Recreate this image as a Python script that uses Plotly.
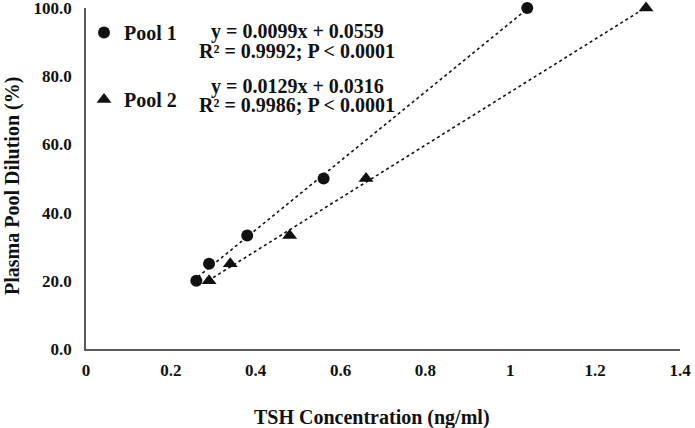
import numpy as np
import plotly.graph_objects as go

pool1_x = [0.26, 0.29, 0.38, 0.56, 1.04]
pool1_y = [20, 25, 33.3, 50, 100]
pool2_x = [0.29, 0.34, 0.48, 0.66, 1.32]
pool2_y = [20, 25, 33.3, 50, 100]

eq_lines = ["y = 0.0099x + 0.0559", "R\u00b2 = 0.9992; P < 0.0001",
            "y = 0.0129x + 0.0316", "R\u00b2 = 0.9986; P < 0.0001"]
x_ticks = [0, 0.2, 0.4, 0.6, 0.8, 1, 1.2, 1.4]
y_ticks = [0, 20, 40, 60, 80, 100]

FONT = "Liberation Serif"
INK = "#111111"

def trend(xs, ys):
    b, a = np.polyfit(ys, xs, 1)
    yy = np.array([min(ys), max(ys)], dtype=float)
    return b * yy + a, yy

fig = go.Figure()
tx1, ty1 = trend(pool1_x, pool1_y)
tx2, ty2 = trend(pool2_x, pool2_y)
fig.add_trace(go.Scatter(x=tx1, y=ty1, mode="lines", showlegend=False,
                         line=dict(color=INK, width=1.6, dash="dot"), hoverinfo="skip"))
fig.add_trace(go.Scatter(x=tx2, y=ty2, mode="lines", showlegend=False,
                         line=dict(color=INK, width=1.6, dash="dot"), hoverinfo="skip"))
fig.add_trace(go.Scatter(x=pool1_x, y=pool1_y, mode="markers", name="Pool 1",
                         legendgroup="g1", cliponaxis=False,
                         marker=dict(symbol="circle", size=12, color=INK)))
fig.add_trace(go.Scatter(x=pool2_x, y=pool2_y, mode="markers", name="Pool 2",
                         legendgroup="g2", cliponaxis=False,
                         marker=dict(symbol="triangle-up", size=13, color=INK)))

L, R, T, B = 86, 15, 8, 79
W, H = 695, 428
pw, ph = W - L - R, H - T - B

def px(x):
    return (x - L) / pw

def py(y):
    return (H - B - y) / ph

eq_pos = [(297, 31.5), (297, 50.5), (297, 86.5), (296.5, 105)]
ann = []
for txt, (ax_, ay_) in zip(eq_lines, eq_pos):
    ann.append(dict(text=txt, x=px(ax_), y=py(ay_), xref="paper", yref="paper",
                    showarrow=False, xanchor="center", yanchor="middle",
                    font=dict(family=FONT, size=20, color=INK, weight="bold")))
ann.append(dict(text="TSH Concentration (ng/ml)", x=px(371.5), y=py(417),
                xref="paper", yref="paper", showarrow=False,
                xanchor="center", yanchor="middle",
                font=dict(family=FONT, size=20, color=INK, weight="bold")))
ann.append(dict(text="Plasma Pool Dilution (%)", x=px(12), y=py(186),
                xref="paper", yref="paper", showarrow=False, textangle=-90,
                xanchor="center", yanchor="middle",
                font=dict(family=FONT, size=20, color=INK, weight="bold")))

fig.update_layout(
    width=W, height=H,
    margin=dict(l=L, r=R, t=T, b=B, autoexpand=False),
    paper_bgcolor="white", plot_bgcolor="white",
    annotations=ann,
    legend=dict(x=px(84), y=py(13), xanchor="left", yanchor="top",
                traceorder="grouped", tracegroupgap=38,
                bgcolor="rgba(0,0,0,0)",
                font=dict(family=FONT, size=20, color=INK, weight="bold")),
    xaxis=dict(range=[0, 1.4], tickvals=x_ticks, ticktext=[f"{v:g}" for v in x_ticks],
               showgrid=False, zeroline=False, showline=True, linecolor="#595959",
               linewidth=1.5, ticks="", ticklabelstandoff=5, ticklabeloverflow="allow",
               automargin=False,
               tickfont=dict(family=FONT, size=17, color=INK, weight="bold")),
    yaxis=dict(range=[0, 100], tickvals=y_ticks, ticktext=[f"{v:.1f}" for v in y_ticks],
               showgrid=False, zeroline=False, showline=True, linecolor="#595959",
               linewidth=1.5, ticks="", ticklabelstandoff=9, ticklabeloverflow="allow",
               automargin=False,
               tickfont=dict(family=FONT, size=17, color=INK, weight="bold")),
)

fig.write_html("out.html", post_script="document.body.style.margin='0';",
               config={"displayModeBar": False})
